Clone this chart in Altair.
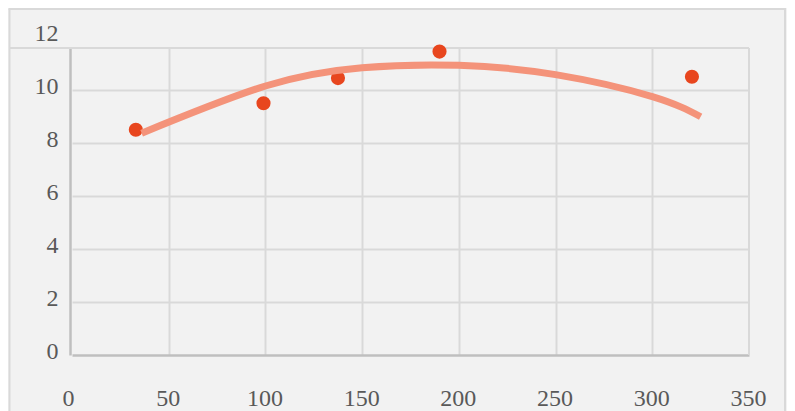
import altair as alt
import pandas as pd

# data
x_vals = [33, 99, 137.5, 190, 320.5]
y_vals = [8.5, 9.5, 10.45, 11.45, 10.5]

trend_x = [36, 100, 150, 200, 250, 300, 325]
trend_y = [8.37, 10.15, 10.84, 10.93, 10.58, 9.75, 8.99]

x_ticks = [0, 50, 100, 150, 200, 250, 300, 350]
y_ticks = [0, 2, 4, 6, 8, 10, 12]
x_grid = [50, 100, 150, 200, 250, 300]
y_grid = [2, 4, 6, 8, 10]

W, H = 677, 318
BG = "#F2F2F2"
GRID = "#D9D9D9"
AXIS = "#BFBFBF"

pts = pd.DataFrame({"x": x_vals, "y": y_vals})
trend = pd.DataFrame({"x": trend_x, "y": trend_y})

xs = alt.Scale(domain=[0, 350], nice=False, zero=False)
ys = alt.Scale(domain=[0, 12], nice=False)

label_style = dict(labelFont="Liberation Serif", labelFontSize=24, labelColor="#595959")

points = alt.Chart(pts).mark_circle(size=200, opacity=1, color="#E8461E").encode(
    x=alt.X("x:Q", scale=xs, axis=alt.Axis(
        values=x_ticks, grid=False, ticks=False, domainColor=AXIS, domainWidth=2.5,
        labelPadding=31, labelFlush=False,
        labelOffset={"condition": {"test": "datum.value === 0", "value": -4}, "value": -1},
        title=None, **label_style)),
    y=alt.Y("y:Q", scale=ys, axis=alt.Axis(
        values=y_ticks, grid=False, ticks=False, domainColor=AXIS, domainWidth=2.5, offset=2,
        labelPadding=12, labelOffset=-4, labelFlush=False, title=None, **label_style)),
)

line = alt.Chart(trend).mark_line(color="#F4937A", strokeWidth=7, interpolate="natural",
                                  strokeCap="butt").encode(
    x=alt.X("x:Q", scale=xs, axis=alt.Axis(orient="top", values=x_grid, grid=True,
                                           gridColor=GRID, gridWidth=2, labels=False,
                                           ticks=False, domain=False, title=None)),
    y=alt.Y("y:Q", scale=ys, axis=alt.Axis(orient="right", values=y_grid, grid=True,
                                           gridColor=GRID, gridWidth=2, labels=False,
                                           ticks=False, domain=False, title=None)),
)

base = alt.Chart(pd.DataFrame({"a": [0]}))

cover = base.mark_rect(color=BG).encode(
    x=alt.value(-5), x2=alt.value(W + 3), y=alt.value(-3), y2=alt.value(10))

top_inner = base.mark_rule(color=GRID, strokeWidth=2).encode(
    x=alt.value(-62.5), x2=alt.value(W), y=alt.value(11))
right_inner = base.mark_rule(color=GRID, strokeWidth=2).encode(
    x=alt.value(W), y=alt.value(11), y2=alt.value(H))
outer_left = base.mark_rule(color=GRID, strokeWidth=2).encode(
    x=alt.value(-62.5), y=alt.value(-28), y2=alt.value(H + 90))
outer_top = base.mark_rule(color=GRID, strokeWidth=2).encode(
    x=alt.value(-63.5), x2=alt.value(714), y=alt.value(-28))
outer_right = base.mark_rule(color=GRID, strokeWidth=2).encode(
    x=alt.value(713), y=alt.value(-28), y2=alt.value(H + 90))

chart = alt.layer(
    cover, top_inner, right_inner, outer_left, outer_top, outer_right, points, line
).resolve_axis(x="independent", y="independent").properties(
    width=W, height=H,
    padding={"left": 64, "top": 29, "right": 38, "bottom": 73},
    autosize=alt.AutoSizeParams(type="none"),
    background=BG,
).configure_view(strokeWidth=0)

chart.save("out.html", embed_options={"renderer": "svg", "actions": False})
